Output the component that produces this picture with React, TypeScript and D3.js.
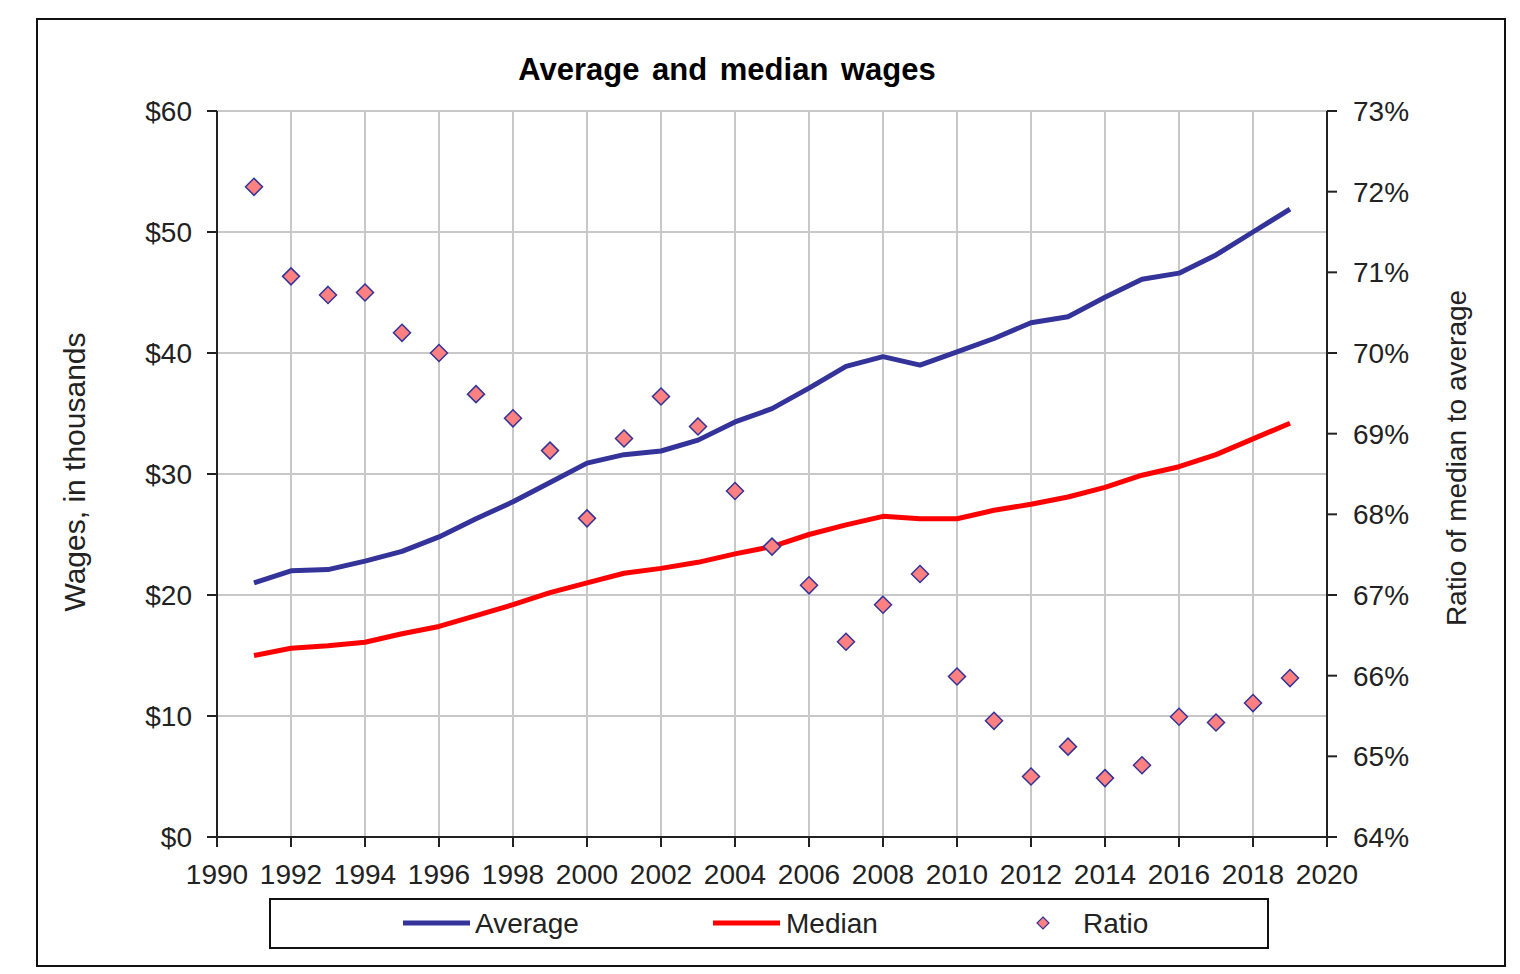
import React from "react";
import * as d3 from "d3";

const years = [1991,1992,1993,1994,1995,1996,1997,1998,1999,2000,2001,2002,2003,2004,2005,2006,2007,2008,2009,2010,2011,2012,2013,2014,2015,2016,2017,2018,2019];
const averageWage = [21.0,22.0,22.1,22.8,23.6,24.8,26.3,27.7,29.3,30.9,31.6,31.9,32.8,34.3,35.4,37.1,38.9,39.7,39.0,40.1,41.2,42.5,43.0,44.6,46.1,46.6,48.1,50.0,51.9];
const medianWage = [15.0,15.6,15.8,16.1,16.8,17.4,18.3,19.2,20.2,21.0,21.8,22.2,22.7,23.4,24.0,25.0,25.8,26.5,26.3,26.3,27.0,27.5,28.1,28.9,29.9,30.6,31.6,32.9,34.2];
const ratioPct = [72.06,70.95,70.72,70.75,70.25,70.0,69.49,69.19,68.79,67.95,68.94,69.46,69.09,68.29,67.6,67.12,66.42,66.88,67.26,65.99,65.44,64.75,65.12,64.73,64.89,65.49,65.42,65.66,65.97];
const xTicks = [1990,1992,1994,1996,1998,2000,2002,2004,2006,2008,2010,2012,2014,2016,2018,2020];
const yTicks = [0,10,20,30,40,50,60];
const rTicks = [64,65,66,67,68,69,70,71,72,73];

const W = 1520, H = 974;
const L = 217, R = 1327, T = 111, B = 837;
const FONT = "'Liberation Sans', Arial, sans-serif";
const NAVY = "#333399";

export default function App() {
  const x = d3.scaleLinear().domain([1990, 2020]).range([L, R]);
  const y = d3.scaleLinear().domain([0, 60]).range([B, T]);
  const yr = d3.scaleLinear().domain([64, 73]).range([B, T]);
  const lineAvg = d3.line<number>().x((_, i) => x(years[i])).y((d) => y(d));
  const diamond = (cx: number, cy: number, r: number) =>
    `M${cx},${cy - r}L${cx + r},${cy}L${cx},${cy + r}L${cx - r},${cy}Z`;

  return (
    <svg width={W} height={H} style={{ position: "absolute", left: 0, top: 0, background: "#fff" }} fontFamily={FONT}>
      <rect x={0} y={0} width={W} height={H} fill="#fff" />
      <rect x={37} y={19} width={1468} height={947} fill="none" stroke="#111" strokeWidth={2} />
      <text x={727} y={80} textAnchor="middle" fontSize={31} fontWeight="bold" wordSpacing={4} fill="#000">Average and median wages</text>

      {/* gridlines */}
      {xTicks.map((t) => (
        <line key={"gx" + t} x1={x(t)} x2={x(t)} y1={T} y2={B} stroke="#c8c8c8" strokeWidth={2} />
      ))}
      {yTicks.map((t) => (
        <line key={"gy" + t} x1={L} x2={R} y1={y(t)} y2={y(t)} stroke="#c8c8c8" strokeWidth={2} />
      ))}

      {/* axes */}
      <line x1={L} x2={L} y1={T} y2={B} stroke="#222" strokeWidth={2} />
      <line x1={R} x2={R} y1={T} y2={B} stroke="#222" strokeWidth={2} />
      <line x1={L - 10} x2={R + 10} y1={B} y2={B} stroke="#222" strokeWidth={2} />
      {yTicks.map((t) => (
        <g key={"ly" + t}>
          <line x1={L - 10} x2={L} y1={y(t)} y2={y(t)} stroke="#222" strokeWidth={2} />
          <text x={192} y={y(t)} dy="0.36em" textAnchor="end" fontSize={28} fill="#222">{"$" + t}</text>
        </g>
      ))}
      {rTicks.map((t) => (
        <g key={"ry" + t}>
          <line x1={R} x2={R + 10} y1={yr(t)} y2={yr(t)} stroke="#222" strokeWidth={2} />
          <text x={1353} y={yr(t)} dy="0.36em" textAnchor="start" fontSize={28} fill="#222">{t + "%"}</text>
        </g>
      ))}
      {xTicks.map((t) => (
        <g key={"lx" + t}>
          <line x1={x(t)} x2={x(t)} y1={B} y2={B + 10} stroke="#222" strokeWidth={2} />
          <text x={x(t)} y={884} textAnchor="middle" fontSize={28} fill="#222">{t}</text>
        </g>
      ))}

      <text transform={`translate(85,472) rotate(-90)`} textAnchor="middle" fontSize={30} fill="#222">Wages, in thousands</text>
      <text transform={`translate(1466,458) rotate(-90)`} textAnchor="middle" fontSize={28} fill="#222">Ratio of median to average</text>

      {/* series */}
      <path d={lineAvg(averageWage) || ""} fill="none" stroke={NAVY} strokeWidth={5} strokeLinejoin="round" />
      <path d={lineAvg(medianWage) || ""} fill="none" stroke="#ff0000" strokeWidth={5} strokeLinejoin="round" />
      {ratioPct.map((v, i) => (
        <path key={"r" + i} d={diamond(x(years[i]), yr(v), 8.5)} fill="#ff8080" stroke={NAVY} strokeWidth={1.5} />
      ))}

      {/* legend */}
      <rect x={270} y={899} width={998} height={49} fill="#fff" stroke="#111" strokeWidth={2} />
      <line x1={403} x2={470} y1={923} y2={923} stroke={NAVY} strokeWidth={5} />
      <text x={475} y={933} fontSize={28} fill="#222">Average</text>
      <line x1={713} x2={780} y1={923} y2={923} stroke="#ff0000" strokeWidth={5} />
      <text x={786} y={933} fontSize={28} fill="#222">Median</text>
      <path d={diamond(1043, 923, 6)} fill="#ff8080" stroke={NAVY} strokeWidth={1.2} />
      <text x={1083} y={933} fontSize={28} fill="#222">Ratio</text>
    </svg>
  );
}
